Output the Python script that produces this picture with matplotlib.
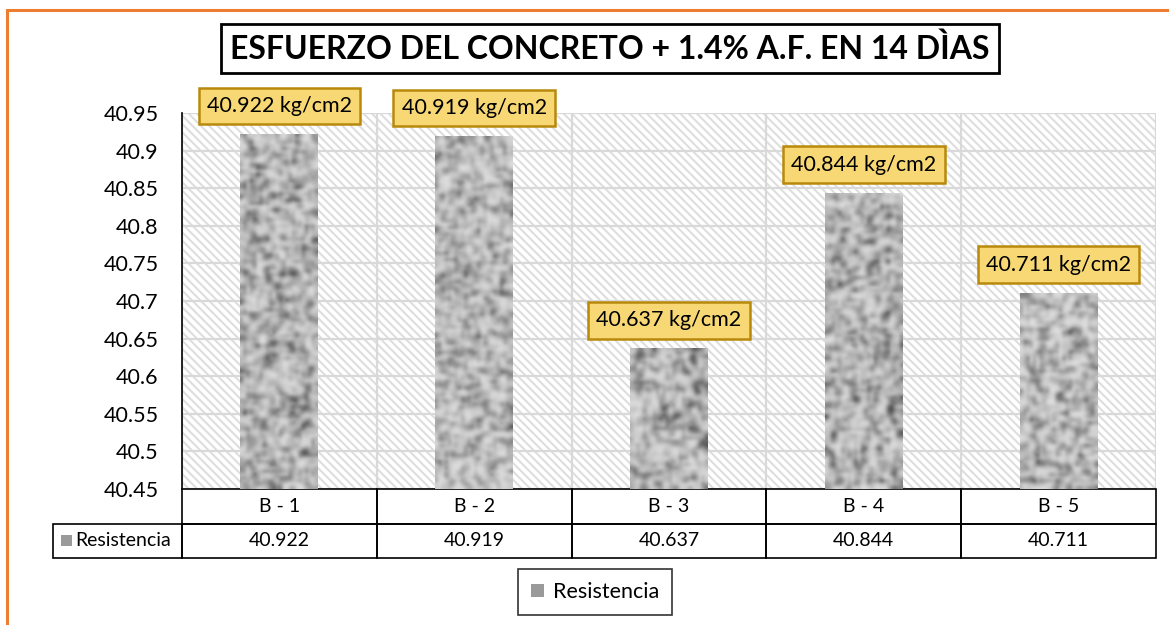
import numpy as np
import matplotlib
matplotlib.use("Agg")
import matplotlib.pyplot as plt
from matplotlib.patches import Rectangle, Patch
from matplotlib.ticker import MultipleLocator, FuncFormatter

plt.rcParams['font.family'] = ['Lato', 'DejaVu Sans']
plt.rcParams['hatch.linewidth'] = 1.5
plt.rcParams['hatch.color'] = '#dedede'

# data
categories = ['B - 1', 'B - 2', 'B - 3', 'B - 4', 'B - 5']
resistencia = [40.922, 40.919, 40.637, 40.844, 40.711]
series_name = 'Resistencia'
unit = 'kg/cm2'
title = 'ESFUERZO DEL CONCRETO + 1.4% A.F. EN 14 DÌAS'

W, H = 1169, 625
fig = plt.figure(figsize=(W / 100, H / 100), dpi=100)
ax = fig.add_axes([182 / W, 1 - 489 / H, (1156 - 182) / W, (489 - 113) / H])

# orange chart frame (runs off the right/bottom edge)
fig.patches.append(Rectangle((7 / W, -0.1), 1.2, 1.1 - 10 / H, transform=fig.transFigure,
                             fill=False, edgecolor='#ed7d31', lw=2.2, clip_on=False))

# hatched plot area
ax.add_patch(Rectangle((0, 0), 1, 1, transform=ax.transAxes, facecolor='white',
                       hatch='\\' * 4, edgecolor='#dedede', lw=0, zorder=0))

x = np.arange(len(categories))
bars = ax.bar(x, resistencia, width=0.4, color='#b0b0b0', zorder=2)

ymin, ymax = 40.45, 40.95

# speckled grey texture for the bars (decoration only)
rng = np.random.default_rng(11)
for b in bars:
    rows = max(4, int((b.get_height() - ymin) / (ymax - ymin) * 376 / 3.2))
    noise = rng.random((rows + 2, 26))
    sm = (noise[1:-1, 1:-1] * 2 + noise[:-2, 1:-1] + noise[2:, 1:-1]
          + noise[1:-1, :-2] + noise[1:-1, 2:]) / 6
    sm = (sm - sm.min()) / (sm.max() - sm.min())
    gray = 0.87 - 0.6 * sm ** 2.0
    im = ax.imshow(gray, cmap='gray', vmin=0, vmax=1, aspect='auto', zorder=2,
                   extent=[b.get_x(), b.get_x() + b.get_width(), ymin, b.get_height()],
                   interpolation='bicubic')
    im.set_clip_path(b)

# value labels in gold boxes
for xi, v in zip(x, resistencia):
    ax.annotate(f'{v:.3f} {unit}', (xi, v), xytext=(0, 13), textcoords='offset points',
                ha='center', va='bottom', fontsize=15.5, zorder=5, annotation_clip=False,
                bbox=dict(boxstyle='square,pad=0.38', facecolor='#f8d874',
                          edgecolor='#b8890a', lw=1.8))

ax.set_xlim(-0.5, len(categories) - 0.5)
ax.set_ylim(ymin, ymax)
ax.yaxis.set_major_locator(MultipleLocator(0.05))
ax.yaxis.set_major_formatter(FuncFormatter(lambda v, p: f'{round(v, 2):g}'))
ax.set_xticks(x)
ax.set_xticklabels([])
ax.set_xticks(np.arange(-0.5, len(categories), 1), minor=True)
ax.tick_params(axis='both', which='both', length=0)
ax.tick_params(axis='y', labelsize=15.5, pad=17)
ax.set_axisbelow(True)
ax.grid(axis='y', which='major', color='#d9d9d9', lw=1.6)
ax.grid(axis='x', which='minor', color='#d9d9d9', lw=1.6)
for s in ['top', 'right', 'bottom']:
    ax.spines[s].set_visible(False)
ax.spines['left'].set_color('black')
ax.spines['left'].set_linewidth(1.2)

# data table under the axis
row_h = 34.5 / (489 - 113)
trans = ax.get_xaxis_transform()
lab_w = (182 - 53) / ((1156 - 182) / len(categories))
for i, (c, v) in enumerate(zip(categories, resistencia)):
    ax.add_patch(Rectangle((i - 0.5, -row_h), 1, row_h, transform=trans, fill=False,
                           edgecolor='black', lw=1.2, clip_on=False))
    ax.add_patch(Rectangle((i - 0.5, -2 * row_h), 1, row_h, transform=trans, fill=False,
                           edgecolor='black', lw=1.2, clip_on=False))
    ax.text(i, -row_h / 2, c, transform=trans, ha='center', va='center', fontsize=14)
    ax.text(i, -1.5 * row_h, f'{v:.3f}', transform=trans, ha='center', va='center', fontsize=14)
ax.add_patch(Rectangle((-0.5 - lab_w, -2 * row_h), lab_w, row_h, transform=trans, fill=False,
                       edgecolor='black', lw=1.2, clip_on=False))
ax.add_patch(Rectangle((-0.5 - lab_w + 0.04, -1.5 * row_h - 0.014), 0.055, 0.028,
                       transform=trans, facecolor='#9a9a9a', edgecolor='none', clip_on=False))
ax.text(-0.5 - lab_w + 0.115, -1.5 * row_h, series_name, transform=trans, ha='left',
        va='center', fontsize=14)

# legend
fig.legend(handles=[Patch(facecolor='#9a9a9a', edgecolor='none', label=series_name)],
           loc='center', bbox_to_anchor=(595 / W, 1 - 592 / H), fontsize=15.5,
           frameon=True, fancybox=False, edgecolor='black', handlelength=0.6,
           handleheight=0.6, handletextpad=0.4, borderpad=0.6).get_frame().set_linewidth(1.2)

# title box
fig.text(610 / W, 1 - 48.5 / H, title, ha='center', va='center', fontsize=23, fontweight='bold',
         bbox=dict(boxstyle='square,pad=0.3', facecolor='white', edgecolor='black', lw=2))

fig.savefig('out.png', dpi=100)
